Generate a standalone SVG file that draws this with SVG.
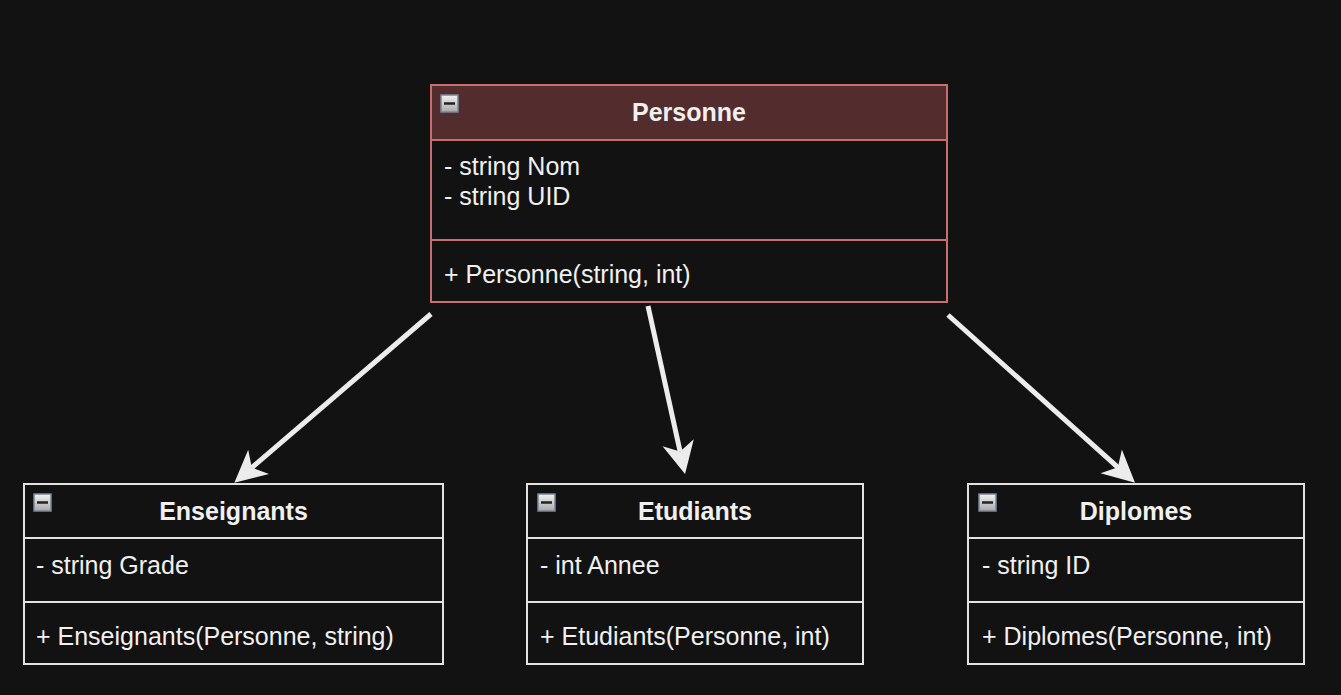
<svg xmlns="http://www.w3.org/2000/svg" width="1341" height="695" viewBox="0 0 1341 695">
<defs>
<linearGradient id="ig" x1="0" y1="0" x2="0" y2="1">
<stop offset="0" stop-color="#f2f2f2"/>
<stop offset="1" stop-color="#a8a8a8"/>
</linearGradient>
<marker id="ah" markerUnits="userSpaceOnUse" markerWidth="40" markerHeight="40" viewBox="-12 -20 40 40" refX="0" refY="0" orient="auto">
<path d="M23,0 L-9,-16 L0,0 L-9,16 Z" fill="#ececec"/>
</marker>
</defs>
<style>
text{font-family:"Liberation Sans",Arial,sans-serif;font-size:25px;fill:#f0f0f0}
.t{font-weight:bold;text-anchor:middle}
.box{fill:#121212;stroke:#e2e2e2;stroke-width:2}
.pbox{fill:#121212;stroke:#c96e6e;stroke-width:2}
.phead{fill:#532d2d;stroke:#c96e6e;stroke-width:2}
.sep{stroke:#e2e2e2;stroke-width:2}
.psep{stroke:#c96e6e;stroke-width:2}
.ico{fill:url(#ig);stroke:#7a8699;stroke-width:1.5}
.mn{stroke:#222;stroke-width:2.5}
.edge{stroke:#ececec;stroke-width:5;fill:none}
</style>
<rect width="1341" height="695" fill="#121212"/>
<g id="connectors">
<line class="edge" x1="431" y1="314" x2="251.8" y2="467.7" marker-end="url(#ah)"/>
<line class="edge" x1="648" y1="306" x2="680.1" y2="451.5" marker-end="url(#ah)"/>
<line class="edge" x1="948" y1="315" x2="1117.9" y2="467.3" marker-end="url(#ah)"/>
</g>
<g id="personne">
<rect class="pbox" x="431" y="85" width="516" height="217"/>
<rect class="phead" x="431" y="85" width="516" height="55"/>
<line class="psep" x1="431" y1="240" x2="947" y2="240"/>
<rect class="ico" x="441" y="95" width="17" height="17"/>
<line class="mn" x1="444" y1="103.5" x2="455" y2="103.5"/>
<text class="t" x="689" y="121">Personne</text>
<text x="444" y="175">- string Nom</text>
<text x="444" y="205">- string UID</text>
<text x="444" y="283">+ Personne(string, int)</text>
</g>
<g id="enseignants">
<rect class="box" x="24" y="484" width="419" height="180"/>
<line class="sep" x1="24" y1="538" x2="443" y2="538"/>
<line class="sep" x1="24" y1="602" x2="443" y2="602"/>
<rect class="ico" x="34" y="494" width="17" height="17"/>
<line class="mn" x1="37" y1="502.5" x2="48" y2="502.5"/>
<text class="t" x="233.5" y="520">Enseignants</text>
<text x="36" y="574">- string Grade</text>
<text x="36" y="645">+ Enseignants(Personne, string)</text>
</g>
<g id="etudiants">
<rect class="box" x="527" y="484" width="336" height="180"/>
<line class="sep" x1="527" y1="538" x2="863" y2="538"/>
<line class="sep" x1="527" y1="602" x2="863" y2="602"/>
<rect class="ico" x="538" y="494" width="17" height="17"/>
<line class="mn" x1="541" y1="502.5" x2="552" y2="502.5"/>
<text class="t" x="695" y="520">Etudiants</text>
<text x="540" y="574">- int Annee</text>
<text x="540" y="645">+ Etudiants(Personne, int)</text>
</g>
<g id="diplomes">
<rect class="box" x="968" y="484" width="336" height="180"/>
<line class="sep" x1="968" y1="538" x2="1304" y2="538"/>
<line class="sep" x1="968" y1="602" x2="1304" y2="602"/>
<rect class="ico" x="979" y="494" width="17" height="17"/>
<line class="mn" x1="982" y1="502.5" x2="993" y2="502.5"/>
<text class="t" x="1136" y="520">Diplomes</text>
<text x="982" y="574">- string ID</text>
<text x="982" y="645">+ Diplomes(Personne, int)</text>
</g>
</svg>
